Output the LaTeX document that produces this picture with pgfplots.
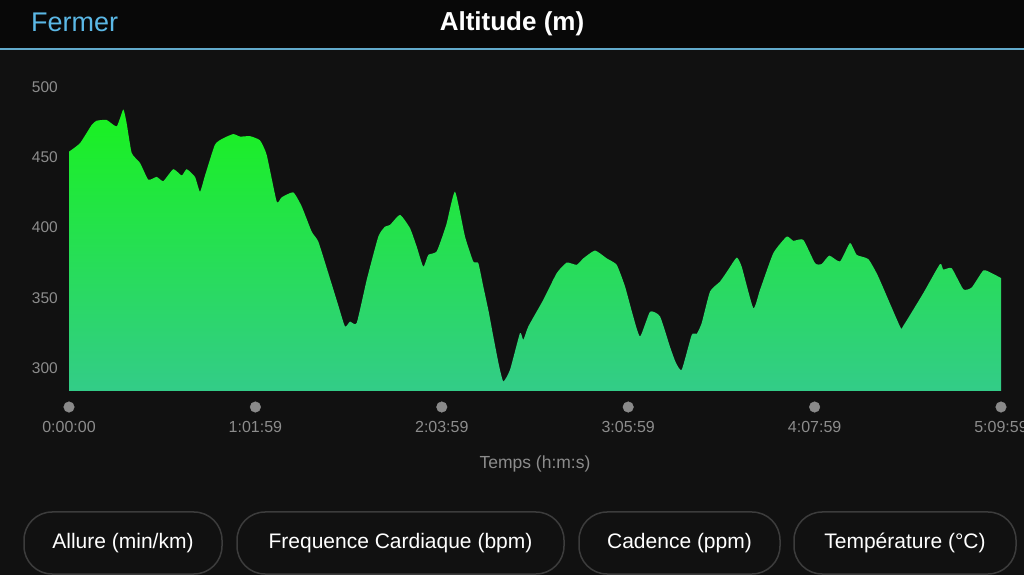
\documentclass[border=0pt]{standalone}
\usepackage{pgfplots}
\pgfplotsset{compat=1.18}
\usepackage{pgfplotstable}
\usepackage{fontspec}
\setmainfont{Liberation Sans}
\definecolor{bg}{HTML}{111111}
\definecolor{topbg}{HTML}{080808}
\definecolor{bluel}{HTML}{62AACB}
\definecolor{fermer}{HTML}{5BB8E6}
\definecolor{ticklab}{HTML}{8C8C8C}
\definecolor{dotc}{HTML}{8A8A8A}
\definecolor{gtop}{HTML}{19F21F}
\definecolor{gmid}{HTML}{22DE55}
\definecolor{gbot}{HTML}{33CC88}
\definecolor{btnborder}{HTML}{3C3C3C}

\pgfplotstableread{
t alt
0 454
3.66 460
7.55 473
9.21 476
12.54 476.5
15.87 472
18.06 484
19.19 474
20.86 453
23.62 446
26.38 434
29.17 436
31.37 433
34.69 441.5
37.49 437
39.15 441.5
41.91 436
43.57 425.5
45.24 437
48.56 459
51.32 463.5
54.65 466.5
56.88 464.7
60.20 465
63.53 462
65.76 451.6
69.09 418.4
70.75 421.5
74.61 425
77.40 415
80.73 397
82.92 390
86.25 367.5
89.50 345
91.80 329.5
93.47 333
95.69 332
99.02 362.7
102.88 393.5
105.11 400.6
106.77 401.8
110.10 409
113.42 399.5
115.65 386.4
117.85 372
119.51 380.5
122.31 383
125.50 402
128.39 425.5
131.72 393.5
134.48 375.7
136.14 374.6
137.80 358
139.60 340
141.13 322.4
143.00 302
144.46 290.4
146.69 298.7
150.01 324.8
151.11 320
152.77 329.5
157.76 348.5
162.22 367.5
165.54 375
168.87 373.4
171.07 378
174.96 383.6
178.85 378
182.18 373.4
184.94 358
187.50 338
189.93 322.4
193.26 340
196.58 336.7
199.91 315
201.80 304
203.80 298.7
207.13 323.6
208.79 324.3
210.45 332
213.21 354.4
216.54 361.5
219.30 370
222.09 378.6
223.76 372
227.61 342.6
229.84 355.6
234.26 381.7
238.72 393.5
240.92 390.5
244.24 391.2
248.14 374.6
250.36 374
252.89 380
256.45 375.8
259.78 389
262.00 380.5
265.86 377.5
269.19 365
276.41 329.5
277.50 330
284.16 353.3
289.71 374
290.81 370
293.60 371
297.47 356
300.26 357.3
304.12 369.4
306.91 367.5
310 364
}\altdata

\pgfplotstableread{
t y
0 272.2
62 272.2
124 272.2
186 272.2
248 272.2
310 272.2
}\dotdata

\begin{document}
\begin{tikzpicture}
\useasboundingbox (0pt,0pt) rectangle (1024pt,575pt);
\fill[bg] (0pt,0pt) rectangle (1024pt,575pt);
\fill[topbg] (0pt,526pt) rectangle (1024pt,575pt);
\draw[bluel, line width=2pt] (0pt,526pt) -- (1024pt,526pt);
\node[anchor=west, text=fermer, font=\fontsize{27}{30}\selectfont, inner sep=0] at (31pt,553pt) {Fermer};
\node[text=white, font=\fontsize{26}{30}\selectfont\bfseries, inner sep=0] at (512pt,551pt) {Altitude (m)};

\begin{axis}[
  at={(69pt,184pt)}, anchor=south west,
  width=932pt, height=304pt, scale only axis,
  xmin=0, xmax=310, ymin=283.6, ymax=500,
  axis line style={draw=none}, tick style={draw=none},
  ytick={300,350,400,450,500},
  xtick={0,62,124,186,248,310},
  xticklabels={0:00:00,1:01:59,2:03:59,3:05:59,4:07:59,5:09:59},
  /pgf/number format/assume math mode=true,
  ticklabel style={text=ticklab},
  yticklabel style={font=\fontsize{15.5}{18}\selectfont, anchor=east, inner sep=0pt, xshift=-11pt},
  xticklabel style={font=\fontsize{16}{18}\selectfont, anchor=north, inner sep=0pt, yshift=-30pt},
  xlabel={Temps (h:m:s)},
  xlabel style={at={(axis description cs:0.5,0)}, anchor=center, inner sep=0pt, yshift=-73pt, text=ticklab, font=\fontsize{17.5}{20}\selectfont},
  clip mode=individual,
]
\addplot[draw=none, smooth, tension=0.3, top color=gtop, middle color=gmid, bottom color=gbot] table {\altdata} |- (axis cs:0,283.6) -- cycle;
\addplot[only marks, mark=*, mark size=5.3pt, color=dotc, clip=false] table {\dotdata};
\end{axis}

\draw[btnborder, line width=1.5pt, rounded corners=28pt] (24pt,1pt) rectangle (222pt,63pt);
\node[text=white, font=\fontsize{21}{24}\selectfont] at (123pt,32pt) {Allure (min/km)};
\draw[btnborder, line width=1.5pt, rounded corners=28pt] (237pt,1pt) rectangle (564pt,63pt);
\node[text=white, font=\fontsize{21}{24}\selectfont] at (400.5pt,32pt) {Frequence Cardiaque (bpm)};
\draw[btnborder, line width=1.5pt, rounded corners=28pt] (579pt,1pt) rectangle (780pt,63pt);
\node[text=white, font=\fontsize{21}{24}\selectfont] at (679.5pt,32pt) {Cadence (ppm)};
\draw[btnborder, line width=1.5pt, rounded corners=28pt] (794pt,1pt) rectangle (1016pt,63pt);
\node[text=white, font=\fontsize{21}{24}\selectfont] at (905pt,32pt) {Température (°C)};
\end{tikzpicture}
\end{document}
